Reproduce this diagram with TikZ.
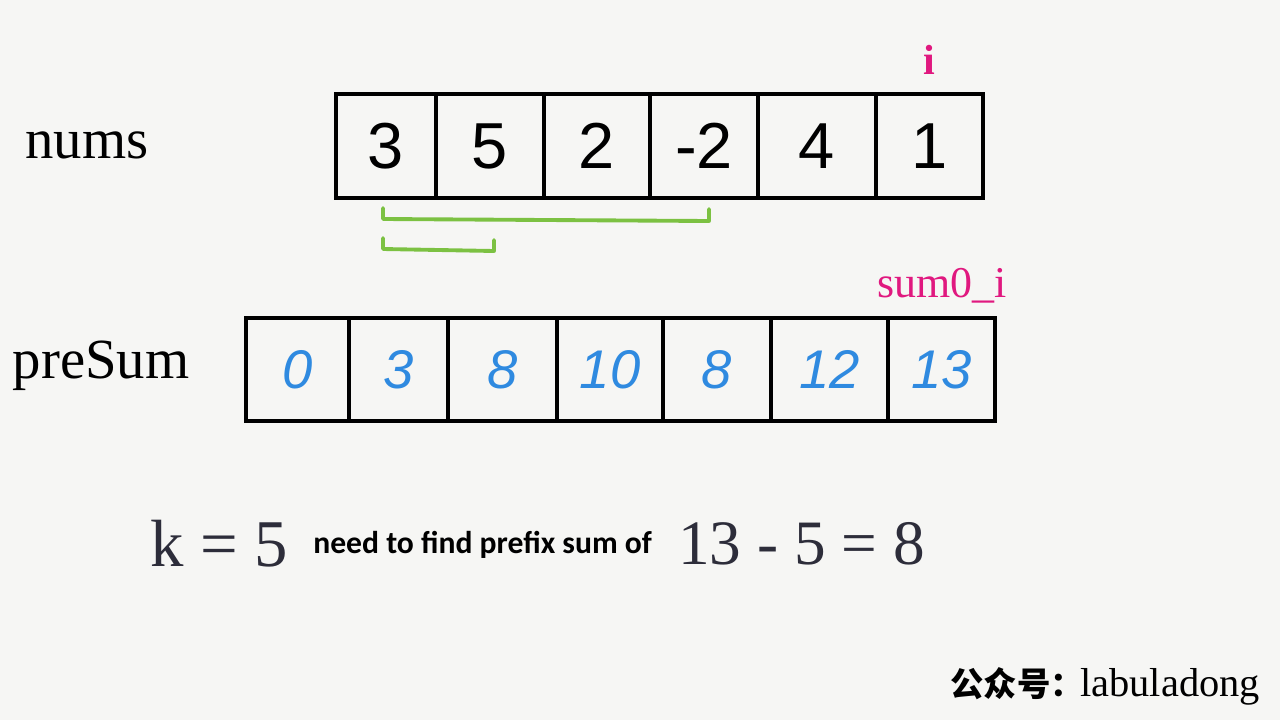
\documentclass[tikz,border=0pt]{standalone}
\usepackage{fontspec}
\setmainfont{Liberation Serif}
\newfontfamily\cjk{Noto Sans CJK SC}
\newfontfamily\calib{Carlito}
\newfontfamily\hand{Liberation Sans}
\definecolor{bg}{HTML}{F6F6F4}
\definecolor{mag}{HTML}{E0187F}
\definecolor{blu}{HTML}{2F8AE0}
\definecolor{grn}{HTML}{7CC142}
\definecolor{ink}{HTML}{2D2D3A}
\tikzset{
  cellbox/.style={draw=black, line width=1.9pt, inner sep=0pt, anchor=center},
  numcell/.style={cellbox, minimum height=104*0.02cm, font=\hand\fontsize{37}{40}\selectfont},
  precell/.style={cellbox, minimum height=103*0.02cm, text=blu, font=\hand\itshape\fontsize{31}{34}\selectfont},
  bracket/.style={draw=grn, line width=2.2pt, line cap=round, line join=round},
  label/.style={inner sep=0pt, anchor=base},
}
\begin{document}
\begin{tikzpicture}[x=0.02cm, y=-0.02cm]
\fill[bg] (0,0) rectangle (1280,720);
\useasboundingbox (0,0) rectangle (1280,720);

% labels
\node[label, font=\fontsize{32.3}{34}\selectfont] (numsl) at (87,158) {nums};
\node[label, font=\fontsize{32.3}{34}\selectfont] (presl) at (101,378) {preSum};
\node[label, text=mag, font=\bfseries\fontsize{24}{26}\selectfont] (ilab) at (929,74) {i};
\node[label, text=mag, font=\fontsize{25}{27}\selectfont] (sumlab) at (942,297) {sum0\_i};

% nums cells
\node[numcell, minimum width=100*0.02cm] (n0) at (386,146) {3};
\node[numcell, minimum width=108*0.02cm] (n1) at (490,146) {5};
\node[numcell, minimum width=106*0.02cm] (n2) at (597,146) {2};
\node[numcell, minimum width=108*0.02cm] (n3) at (704,146) {-2};
\node[numcell, minimum width=118*0.02cm] (n4) at (817,146) {4};
\node[numcell, minimum width=107*0.02cm] (n5) at (929.5,146) {1};

% preSum cells
\node[precell, minimum width=103*0.02cm] (p0) at (297.5,369.5) {0};
\node[precell, minimum width=99*0.02cm]  (p1) at (398.5,369.5) {3};
\node[precell, minimum width=109*0.02cm] (p2) at (502.5,369.5) {8};
\node[precell, minimum width=106*0.02cm] (p3) at (610,369.5) {10};
\node[precell, minimum width=108*0.02cm] (p4) at (717,369.5) {8};
\node[precell, minimum width=117*0.02cm] (p5) at (829.5,369.5) {12};
\node[precell, minimum width=107*0.02cm] (p6) at (941.5,369.5) {13};

% green brackets
\coordinate (b1a) at (383,208);
\coordinate (b1b) at (383,219);
\coordinate (b1c) at (709,221);
\coordinate (b1d) at (709,209);
\draw[bracket] (b1a) -- (b1b) -- (b1c) -- (b1d);
\coordinate (b2a) at (383,238);
\coordinate (b2b) at (383,249);
\coordinate (b2c) at (494,251);
\coordinate (b2d) at (494,240);
\draw[bracket] (b2a) -- (b2b) -- (b2c) -- (b2d);

% bottom line
\node[label, anchor=base west, text=ink, font=\fontsize{38}{40}\selectfont] (keq) at (150,566) {k = 5};
\node[label, anchor=base west, font=\calib\bfseries\fontsize{18}{20}\selectfont] (need) at (313,553) {need to find prefix sum of};
\node[label, anchor=base west, text=ink, font=\fontsize{36}{38}\selectfont] (calc) at (678,564) {13 - 5 = 8};

% watermark
\node[label, anchor=base west, font=\cjk\bfseries\fontsize{19}{21}\selectfont] (wm1) at (950,696) {公众号：};
\node[label, anchor=base west, font=\fontsize{23}{25}\selectfont] (wm2) at (1080,696) {labuladong};
\end{tikzpicture}
\end{document}
